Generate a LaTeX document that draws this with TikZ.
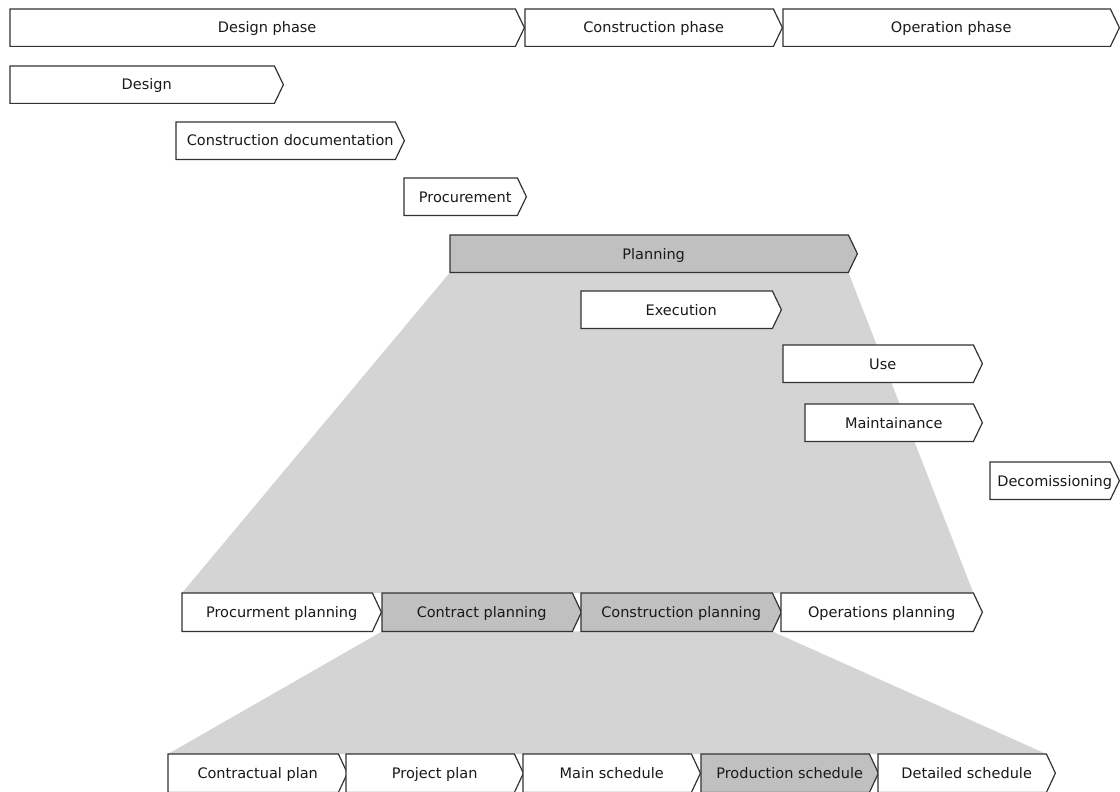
\documentclass[tikz,border=0pt]{standalone}
\usepackage{fontspec}
\setmainfont{DejaVu Sans}
\usetikzlibrary{calc}

\pgfdeclarelayer{back}
\pgfdeclarelayer{boxes}
\pgfsetlayers{back,boxes,main}

\definecolor{boxgray}{HTML}{C0C0C0}
\definecolor{zoomgray}{HTML}{D4D4D4}
\definecolor{edgegray}{HTML}{333333}

\tikzset{
    phase/.style={inner sep=0pt, anchor=north west, text=black!90,
        text height=12pt, text depth=1.4pt,
        font=\fontsize{14.5}{17}\selectfont},
    chevline/.style={draw=edgegray, line width=1.2pt, line join=miter},
}

\begin{document}
\begin{tikzpicture}[x=1pt,y=-1pt]
        \useasboundingbox (0,0) rectangle (1120,792);
        % Draw phase boxes: name/left/top/tip/height/fill/text
        \foreach \n/\xa/\ya/\xb/\h/\f/\t in {
            dphase/10/9/524/37/white/Design phase,
            cphase/525/9/782/37/white/Construction phase,
            ophase/783/9/1119/37/white/Operation phase,
            design/10/66/283/37/white/Design,
            cdoc/176/122/404/37/white/Construction documentation,
            procure/404/178/526/37/white/Procurement,
            plan/450/235/857/37/boxgray/Planning,
            exec/581/291/781/37/white/Execution,
            use/783/345/982/37/white/Use,
            maint/805/404/982/37/white/Maintainance,
            decom/990/462/1119/37/white/Decomissioning,
            pplan/182/593/381/38/white/Procurment planning,
            ctplan/382/593/581/38/boxgray/Contract planning,
            csplan/581/593/781/38/boxgray/Construction planning,
            oplan/781/593/982/38/white/Operations planning,
            contr/168/754/347/38/white/Contractual plan,
            proj/346/754/523/38/white/Project plan,
            mains/523/754/700/38/white/Main schedule,
            prods/701/754/878/38/boxgray/Production schedule,
            detail/878/754/1055/38/white/Detailed schedule} {
            \node[phase, minimum width={(\xb-\xa)*1pt}, minimum height=\h pt] (\n) at (\xa,\ya) {\t};
            \begin{pgfonlayer}{boxes}
                \draw[chevline, fill=\f] (\n.north west) -- ($(\n.north east)+(-9,0)$) -- (\n.east)
                    -- ($(\n.south east)+(-9,0)$) -- (\n.south west) -- cycle;
            \end{pgfonlayer}
        }
        % Zoom from planning to its parts
        \begin{pgfonlayer}{back}
            \fill[zoomgray] (plan.south west) -- ($(plan.south east)+(-9,0)$)
                -- ($(oplan.north east)+(-9,0)$) -- (pplan.north west) -- cycle;
            \fill[zoomgray] (ctplan.south west) -- ($(csplan.south east)+(-9,0)$)
                -- ($(detail.north east)+(-9,0)$) -- (contr.north west) -- cycle;
        \end{pgfonlayer}
\end{tikzpicture}
\end{document}
